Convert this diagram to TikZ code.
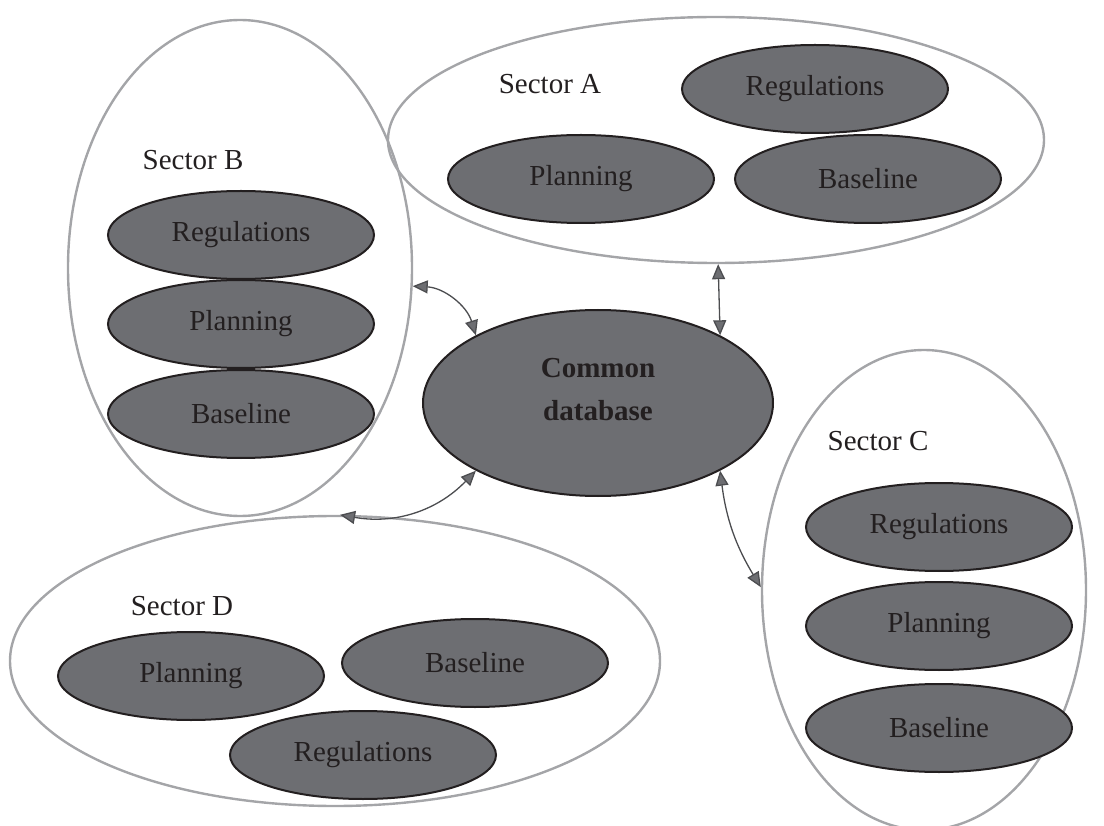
\documentclass[tikz,border=0pt]{standalone}
\usepackage{fontspec}
\setmainfont{Liberation Serif}
\usepackage{xcolor}
\usepackage{tikz}
\usetikzlibrary{shapes, arrows.meta, positioning}

\definecolor{topicgray}{HTML}{6D6E72}
\definecolor{ringgray}{HTML}{A4A5A8}
\definecolor{inkdark}{HTML}{231F20}

\tikzset{
    sector/.style={draw=ringgray, line width=2.4pt, ellipse, inner sep=0pt},
    topic/.style={draw=inkdark, line width=2pt, fill=topicgray, ellipse, inner sep=0pt,
        minimum width=266pt, minimum height=88pt, text=inkdark, font=\fontsize{29}{34}\selectfont},
    title/.style={text=inkdark, font=\fontsize{29}{34}\selectfont},
    link/.style={draw=topicgray!70!black, line width=1.3pt,
        {Triangle[length=15pt, width=13pt, fill=topicgray]}-{Triangle[length=15pt, width=13pt, fill=topicgray]}}
}

\begin{document}
\begin{tikzpicture}[x=1pt, y=-1pt]
    \useasboundingbox (0,0) rectangle (1104,826);

    % sectors
    \node[sector, minimum width=656pt, minimum height=246pt] (secA) at (716,140) {};
    \node[sector, minimum width=344pt, minimum height=496pt] (secB) at (240,268) {};
    \node[sector, minimum width=324pt, minimum height=480pt] (secC) at (924,590) {};
    \node[sector, minimum width=650pt, minimum height=290pt] (secD) at (335,661) {};

    \node[title] (titleA) at (550,84) {Sector A};
    \node[title] (titleB) at (193,160) {Sector B};
    \node[title] (titleC) at (878,441) {Sector C};
    \node[title] (titleD) at (182,606) {Sector D};

    % sector A
    \node[topic] (regA) at (815,89) {Regulations};
    \node[topic] (planA) at (581,179) {Planning};
    \node[topic] (baseA) at (868,179) {Baseline};

    % sector B
    \node[topic] (regB) at (241,235) {Regulations};
    \node[topic] (planB) at (241,324) {Planning};
    \node[topic] (baseB) at (241,414) {Baseline};

    % sector C
    \node[topic] (regC) at (939,527) {Regulations};
    \node[topic] (planC) at (939,626) {Planning};
    \node[topic] (baseC) at (939,728) {Baseline};

    % sector D
    \node[topic] (planD) at (191,676) {Planning};
    \node[topic] (baseD) at (475,663) {Baseline};
    \node[topic] (regD) at (363,755) {Regulations};

    % common database
    \node[topic, minimum width=350pt, minimum height=186pt] (common) at (598,403) {};
    \node[title, align=center, font=\fontsize{29}{43}\selectfont\bfseries]
        (commonText) at ([yshift=13pt]common.center) {Common\\database};

    % links
    \draw[link] (secB.-6) to[bend left=35] (common.151);
    \draw[link] (secA.-89) -- (common.29);
    \draw[link] (secD.88) to[bend right=28] (common.209);
    \draw[link] (common.-29) to[bend right=12] (secC.179);
\end{tikzpicture}
\end{document}
